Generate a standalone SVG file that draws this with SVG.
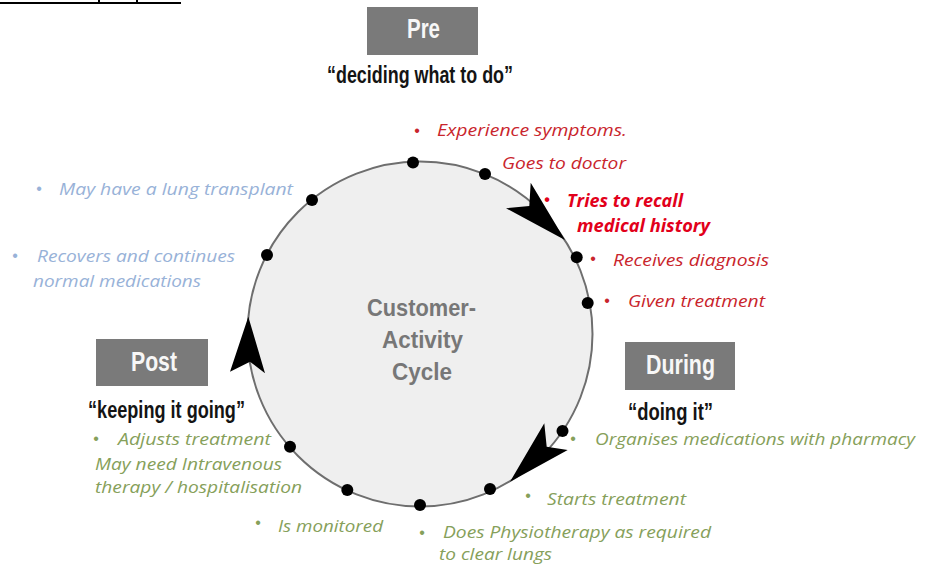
<svg xmlns="http://www.w3.org/2000/svg" width="927" height="569" viewBox="0 0 927 569">
<style>
.box{fill:#7a7a7a}
.hd{font-family:"Liberation Sans",Arial,sans-serif;font-weight:bold;fill:#f7f7f7;font-size:27px}
.qt{font-family:"Liberation Sans",Arial,sans-serif;font-weight:bold;fill:#141414;font-size:23px}
.cac{font-family:"Liberation Sans",Arial,sans-serif;font-weight:bold;fill:#777;font-size:24px;text-anchor:start}
.it{font-family:"Open Sans","Liberation Sans",sans-serif;font-style:italic;font-size:17px}
.bl{font-family:"Liberation Sans",Arial,sans-serif;font-size:16px;text-anchor:middle}
.red{fill:#c9252c}
.bred{fill:#e2001a;font-weight:bold}
.blue{fill:#98b2d8}
.green{fill:#86a05a}
.dot{fill:#000}
.arr{fill:#000}
</style>
<rect width="927" height="569" fill="#fff"/>
<g id="topline" stroke="#000" stroke-width="2">
<line x1="0" y1="3" x2="181" y2="3"/>
<line x1="99" y1="0" x2="99" y2="3"/>
<line x1="137" y1="0" x2="137" y2="3"/>
</g>
<g id="cycle">
<circle cx="420" cy="334" r="172.5" fill="#efefef" stroke="#6e6e6e" stroke-width="2"/>
<text class="cac" x="367" y="316" textLength="109" lengthAdjust="spacingAndGlyphs">Customer-</text>
<text class="cac" x="382" y="348" textLength="81" lengthAdjust="spacingAndGlyphs">Activity</text>
<text class="cac" x="392" y="380" textLength="60" lengthAdjust="spacingAndGlyphs">Cycle</text>
</g>
<g id="connectors">
<polygon class="arr" points="565,240 530.7,182.7 529.3,206 506,208.3"/>
<polygon class="arr" points="510,481.7 544.3,423.3 546.7,446.7 567.7,450"/>
<polygon class="arr" points="248.3,316.7 265,373.3 250,361.7 230,371.7"/>
</g>
<g id="pre">
<rect class="box" x="367" y="7" width="111" height="48"/>
<text class="hd" x="407" y="38" textLength="33" lengthAdjust="spacingAndGlyphs">Pre</text>
<text class="qt" x="327" y="83" textLength="186" lengthAdjust="spacingAndGlyphs">“deciding what to do”</text>
</g>
<g id="during">
<rect class="box" x="625" y="342" width="110" height="48"/>
<text class="hd" x="646" y="374" textLength="69" lengthAdjust="spacingAndGlyphs">During</text>
<text class="qt" x="628" y="420" textLength="85" lengthAdjust="spacingAndGlyphs">“doing it”</text>
</g>
<g id="post">
<rect class="box" x="96" y="339" width="112" height="47"/>
<text class="hd" x="131" y="371" textLength="46" lengthAdjust="spacingAndGlyphs">Post</text>
<text class="qt" x="88" y="418" textLength="157" lengthAdjust="spacingAndGlyphs">“keeping it going”</text>
</g>
<g id="dots">
<circle class="dot" cx="413" cy="162.5" r="6"/>
<circle class="dot" cx="485" cy="174" r="6"/>
<circle class="dot" cx="312" cy="200" r="6"/>
<circle class="dot" cx="576.7" cy="257.3" r="6"/>
<circle class="dot" cx="267" cy="255" r="6"/>
<circle class="dot" cx="587.7" cy="303" r="6"/>
<circle class="dot" cx="562.5" cy="431" r="6"/>
<circle class="dot" cx="290" cy="446.7" r="6"/>
<circle class="dot" cx="490" cy="489" r="6"/>
<circle class="dot" cx="347.3" cy="490" r="6"/>
<circle class="dot" cx="420" cy="505" r="6"/>
</g>
<g id="step-experience-symptoms">
<text class="bl red" x="417" y="136">•</text>
<text class="it red" x="437" y="136" textLength="190" lengthAdjust="spacingAndGlyphs">Experience symptoms.</text>
</g>
<g id="step-goes-to-doctor">
<text class="it red" x="502" y="169" textLength="124" lengthAdjust="spacingAndGlyphs">Goes to doctor</text>
</g>
<g id="step-recall-history">
<text class="bl bred" x="547" y="205">•</text>
<text class="it bred" x="567" y="206.5" textLength="116" lengthAdjust="spacingAndGlyphs">Tries to recall</text>
<text class="it bred" x="577" y="231.5" textLength="133" lengthAdjust="spacingAndGlyphs">medical history</text>
</g>
<g id="step-receives-diagnosis">
<text class="bl red" x="593" y="264">•</text>
<text class="it red" x="613" y="266" textLength="156" lengthAdjust="spacingAndGlyphs">Receives diagnosis</text>
</g>
<g id="step-given-treatment">
<text class="bl red" x="607" y="306">•</text>
<text class="it red" x="628" y="306.5" textLength="137" lengthAdjust="spacingAndGlyphs">Given treatment</text>
</g>
<g id="step-organises-medications">
<text class="bl green" x="573" y="444">•</text>
<text class="it green" x="595" y="445" textLength="320" lengthAdjust="spacingAndGlyphs">Organises medications with pharmacy</text>
</g>
<g id="step-starts-treatment">
<text class="bl green" x="528" y="501">•</text>
<text class="it green" x="547" y="505" textLength="139" lengthAdjust="spacingAndGlyphs">Starts treatment</text>
</g>
<g id="step-physiotherapy">
<text class="bl green" x="422" y="538">•</text>
<text class="it green" x="443" y="538" textLength="268" lengthAdjust="spacingAndGlyphs">Does Physiotherapy as required</text>
<text class="it green" x="439" y="560" textLength="113" lengthAdjust="spacingAndGlyphs">to clear lungs</text>
</g>
<g id="step-monitored">
<text class="bl green" x="258" y="528">•</text>
<text class="it green" x="278" y="531.5" textLength="105" lengthAdjust="spacingAndGlyphs">Is monitored</text>
</g>
<g id="step-adjusts-treatment">
<text class="bl green" x="96" y="444">•</text>
<text class="it green" x="118" y="445" textLength="153" lengthAdjust="spacingAndGlyphs">Adjusts treatment</text>
<text class="it green" x="95" y="470" textLength="187" lengthAdjust="spacingAndGlyphs">May need Intravenous</text>
<text class="it green" x="95" y="493" textLength="207" lengthAdjust="spacingAndGlyphs">therapy / hospitalisation</text>
</g>
<g id="step-recovers">
<text class="bl blue" x="15" y="261">•</text>
<text class="it blue" x="37" y="261.5" textLength="198" lengthAdjust="spacingAndGlyphs">Recovers and continues</text>
<text class="it blue" x="33" y="286.5" textLength="168" lengthAdjust="spacingAndGlyphs">normal medications</text>
</g>
<g id="step-lung-transplant">
<text class="bl blue" x="39" y="194">•</text>
<text class="it blue" x="59" y="195" textLength="234" lengthAdjust="spacingAndGlyphs">May have a lung transplant</text>
</g>
</svg>
